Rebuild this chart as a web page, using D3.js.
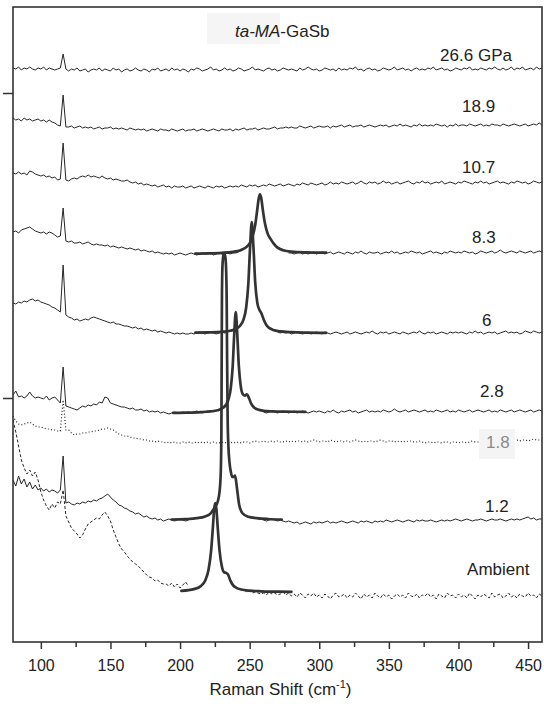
<!DOCTYPE html>
<html>
<head>
<meta charset="utf-8">
<script src="https://cdn.jsdelivr.net/npm/d3@7"></script>
<style>
  html, body { margin: 0; padding: 0; background: #fff; }
  svg { display: block; font-family: "Liberation Sans", Arial, Helvetica, sans-serif; }
</style>
</head>
<body>
<svg id="chart" width="544" height="704"></svg>
<script>
// Raman shift grid (cm-1) shared by all measured spectra
const shift = [
  80,82,84,86,88,90,92,94,96,98,
  100,102,104,106,108,110,112,114,116,118,
  120,122,124,126,128,130,132,134,136,138,
  140,142,144,146,148,150,152,154,156,158,
  160,162,164,166,168,170,172,174,176,178,
  180,182,184,186,188,190,192,194,196,198,
  200,202,204,206,208,210,212,214,216,218,
  220,222,224,226,228,230,232,234,236,238,
  240,242,244,246,248,250,252,254,256,258,
  260,262,264,266,268,270,272,274,276,278,
  280,282,284,286,288,290,292,294,296,298,
  300,302,304,306,308,310,312,314,316,318,
  320,322,324,326,328,330,332,334,336,338,
  340,342,344,346,348,350,352,354,356,358,
  360,362,364,366,368,370,372,374,376,378,
  380,382,384,386,388,390,392,394,396,398,
  400,402,404,406,408,410,412,414,416,418,
  420,422,424,426,428,430,432,434,436,438,
  440,442,444,446,448,450,452,454,456,458,
  460
];

// Pressure of each spectrum, top to bottom
const pressures = ["26.6 GPa", "18.9", "10.7", "8.3", "6", "2.8", "1.8", "1.2", "Ambient"];

// Vertical stacking offset of each spectrum (arb. units)
const offsets = [572, 516, 459, 389, 309, 230, 200, 122, 50];

// Measured intensities relative to each offset (null where the fitted peak is drawn)
const raw266 = [
  2,1,3,0,2,1,3,1,0,2,
  1,3,0,2,1,0,1,2,16,1,
  -1,1,0,2,-1,0,1,-2,0,1,
  0,2,-1,1,0,-1,2,0,1,-2,
  0,1,-1,0,2,0,-1,1,0,-2,
  1,0,2,-1,0,1,-1,2,0,1,
  -1,1,0,-2,1,0,2,1,-1,0,
  1,3,0,1,-1,0,2,0,1,-1,
  0,2,1,-1,0,1,3,0,1,0,
  -1,1,2,0,1,-1,0,2,1,0,
  1,0,-1,2,0,1,3,1,0,1,
  -1,0,2,1,0,1,-1,2,0,1,
  0,2,1,3,0,1,-1,1,2,0,
  1,-1,0,2,1,0,1,3,0,1,
  2,0,1,-1,1,2,0,1,0,2,
  1,3,0,1,2,0,1,-1,0,2,
  1,0,2,1,3,0,1,0,2,1,
  0,2,1,3,1,0,2,0,1,3,
  0,2,1,3,0,1,2,0,3,1,
  2
];
const raw189 = [
  8,6,7,5,8,6,7,5,6,7,
  5,6,4,6,4,3,1,0,31,-1,
  -1,0,-2,-1,0,-2,-1,-2,-1,-3,
  -2,-1,-3,-2,-2,-1,-3,-2,-3,-2,
  -3,-4,-2,-3,-4,-3,-4,-3,-5,-4,
  -3,-4,-5,-3,-4,-4,-5,-3,-4,-5,
  -4,-3,-5,-4,-4,-3,-5,-4,-3,-4,
  -5,-4,-3,-4,-5,-3,-4,-4,-3,-5,
  -3,-4,-3,-2,-4,-3,-3,-2,-4,-3,
  -2,-3,-3,-2,-1,-3,-2,-2,-1,-2,
  -1,-2,-2,0,-1,-2,-1,0,-2,-1,
  0,-1,-1,0,-2,0,-1,0,1,-1,
  0,1,-1,0,0,1,-1,0,1,0,
  -1,0,1,0,1,-1,0,1,0,2,
  0,1,0,-1,1,0,2,0,1,0,
  1,0,2,1,0,1,-1,1,0,2,
  0,1,1,0,2,1,0,1,2,0,
  1,0,2,1,1,0,2,1,0,1,
  2,1,0,1,2,0,1,2,1,3,
  1
];
const raw107 = [
  10,9,11,9,10,8,12,11,9,8,
  7,8,6,7,5,6,3,4,40,3,
  2,4,5,4,6,7,6,8,6,7,
  6,5,7,5,4,5,3,4,3,2,
  2,3,1,0,1,-1,0,-2,-1,-2,
  -3,-2,-4,-3,-2,-4,-3,-5,-3,-4,
  -4,-3,-5,-4,-3,-5,-4,-3,-4,-5,
  -3,-4,-5,-3,-4,-3,-5,-4,-3,-4,
  -3,-4,-2,-3,-4,-2,-3,-2,-4,-3,
  -2,-3,-1,-2,-3,-2,-1,-3,-2,-1,
  -2,-3,-1,-2,0,-1,-2,0,-1,-2,
  -1,0,-2,-1,1,-1,0,-1,1,0,
  -1,0,1,-1,0,2,0,-1,1,0,
  1,-1,0,2,0,1,-1,0,1,-1,
  0,1,2,0,-1,1,0,2,0,1,
  -1,0,1,0,2,-1,0,1,0,-1,
  1,0,2,1,0,-1,1,0,2,0,
  1,-1,0,1,2,0,1,0,-1,1,
  0,2,1,0,1,-1,0,2,1,0,
  1
];
const raw83 = [
  21,22,20,23,24,25,26,24,22,21,
  20,21,19,21,20,18,16,17,45,12,
  11,12,10,10,11,9,10,11,9,8,
  9,8,8,7,8,6,7,6,5,6,
  5,4,5,4,3,4,2,3,2,1,
  2,0,1,0,-1,0,-1,0,-2,-1,
  0,-1,-2,-1,0,-1,-2,-1,0,-1,
  -1,0,-2,-1,0,-1,-1,0,-1,0,
  0,1,null,null,null,null,null,null,null,null,
  null,null,null,null,null,null,null,null,null,0,
  0,-1,0,1,-1,0,-1,0,1,-1,
  0,1,-1,0,1,-1,0,1,0,-1,
  1,0,-1,1,0,2,0,-1,1,0,
  0,1,-1,0,1,0,2,0,1,-1,
  0,1,0,2,1,0,1,-1,0,1,
  2,0,1,0,-1,1,0,2,1,0,
  1,0,2,1,0,1,-1,0,2,1,
  0,1,2,0,1,3,1,0,1,2,
  1,0,2,1,0,1,2,0,1,2,
  1
];
const raw6 = [
  30,29,31,30,32,31,33,34,32,33,
  31,30,29,28,26,25,23,21,68,18,
  16,15,13,14,12,13,14,13,15,16,
  15,14,13,12,11,10,11,9,9,8,
  7,7,6,5,6,4,5,3,4,3,
  2,3,1,2,1,0,1,0,-1,0,
  -1,0,-1,-1,0,-1,0,1,0,-1,
  0,1,0,-1,0,1,0,1,null,null,
  null,null,null,null,null,null,null,null,null,null,
  null,null,null,null,null,1,0,1,0,1,
  -1,0,1,0,-1,0,1,-1,0,1,
  0,-1,1,0,-1,0,1,0,-1,0,
  1,-1,0,1,0,-1,0,1,0,2,
  0,-1,1,0,1,-1,0,1,0,-1,
  1,0,-1,0,1,0,2,0,-1,1,
  0,1,-1,0,1,0,-1,1,0,1,
  0,1,0,-1,1,0,2,0,1,-1,
  0,1,0,1,-1,0,1,2,0,1,
  0,1,-1,0,2,1,0,2,1,0,
  1
];
const raw28 = [
  17,21,15,16,14,16,20,16,14,15,
  14,13,16,12,14,15,12,9,45,6,
  5,4,3,2,4,6,5,7,6,8,
  7,10,9,15,14,9,8,7,6,5,
  5,4,3,4,2,2,3,1,2,0,
  1,0,1,-1,0,-1,-2,-1,0,-1,
  -1,0,-1,0,-1,0,1,0,-1,0,
  0,1,0,null,null,null,null,null,null,null,
  null,null,null,null,null,null,null,null,null,null,
  0,-1,0,1,0,-1,0,1,0,-1,
  0,1,-1,0,1,0,-1,0,1,0,
  1,0,-1,1,0,2,0,-1,1,0,
  1,2,0,1,-1,0,1,2,0,1,
  0,1,0,2,1,0,1,3,1,0,
  1,2,0,1,2,1,0,1,2,0,
  1,0,2,1,0,1,2,0,1,0,
  2,1,0,1,2,0,1,2,1,0,
  1,2,0,1,0,2,1,0,1,2,
  0,1,2,1,0,1,2,0,1,2,
  1
];
const raw18 = [
  26,21,18,17,18,19,20,18,16,15,
  15,14,13,13,12,12,11,11,42,12,
  12,9,7,8,8,9,9,10,10,11,
  11,12,13,13,14,13,12,10,8,7,
  6,6,5,4,4,3,3,2,2,1,
  1,0,1,0,0,-1,0,-1,0,-1,
  -1,0,-1,0,-1,-1,0,-1,0,-1,
  0,-1,0,-1,-1,0,-1,0,-1,0,
  -1,0,-1,0,0,-1,0,1,0,0,
  1,0,0,1,0,1,0,0,1,0,
  1,0,1,1,0,1,0,1,2,1,
  0,1,1,0,2,1,0,1,1,0,
  1,0,1,2,1,0,1,0,1,1,
  0,1,2,1,0,1,1,0,1,0,
  1,0,1,1,0,0,1,0,-1,0,
  0,-1,0,0,-1,0,0,-1,0,0,
  -1,0,0,-1,0,1,0,0,1,0,
  1,0,1,1,0,1,2,1,1,2,
  1,2,1,2,2,1,2,3,2,2,
  2
];
const raw12 = [
  40,34,44,36,41,33,38,31,35,30,
  32,29,31,28,30,29,27,30,64,17,
  18,16,15,17,16,18,17,19,18,20,
  19,21,22,24,26,23,20,18,15,14,
  12,11,9,8,6,7,5,3,4,2,
  1,2,0,1,-1,0,1,0,-1,0,
  1,0,-1,0,1,1,null,null,null,null,
  null,null,null,null,null,null,null,null,null,null,
  null,null,null,null,null,null,null,null,1,1,
  0,-1,0,1,0,-1,0,-1,-2,-1,
  -2,-3,-2,-4,-3,-2,-3,-4,-2,-3,
  -2,-3,-2,-1,-3,-2,-3,-2,-1,-2,
  -3,-2,-1,-2,-3,-1,-2,-1,-2,-3,
  -1,-2,-1,-2,0,-1,-2,-1,0,-1,
  -2,-1,0,-1,-2,0,-1,0,-1,-1,
  0,-1,-2,-1,0,-1,0,-1,0,1,
  0,-1,0,1,0,-1,0,0,1,0,
  -1,0,1,0,0,1,0,-1,0,1,
  0,1,0,1,2,3,1,2,0,1,
  1
];
const rawAmbient = [
  172,160,146,132,124,118,122,116,120,112,
  100,92,86,82,88,84,90,88,102,76,
  70,64,61,58,54,57,63,68,70,72,
  74,73,77,80,76,71,62,55,48,43,
  40,36,33,30,28,26,23,20,17,15,
  14,11,12,9,8,8,6,9,5,8,
  4,7,10,6,null,null,null,null,null,null,
  null,null,null,null,null,null,null,null,null,null,
  null,null,null,2,0,1,-1,0,-1,-2,
  -1,-3,0,-2,-1,-3,-2,0,-3,-1,
  -4,-2,-5,-1,-3,-6,-2,-4,-1,-5,
  -3,-6,-2,-4,-7,-3,-1,-5,-4,-2,
  -6,-3,-5,-1,-4,-7,-2,-5,-3,-6,
  -1,-4,-6,-2,-5,-3,-7,-4,-2,-5,
  -3,-6,-1,-4,-5,-2,-6,-3,-4,-1,
  -5,-3,-7,-2,-4,-6,-1,-4,-3,-6,
  -2,-5,-3,-6,-1,-4,-7,-3,-5,-2,
  -4,-6,-1,-5,-3,-2,-6,-4,-1,-5,
  -3,-6,-2,-4,-5,-1,-4,-3,-6,-2,
  -4
];

// Fitted phonon band profiles (shift, intensity relative to the spectrum offset)
const fit83Shift = [211,220,230,238,243,247,250,252,254,255.5,256.5,257.4,258.3,259.5,261,263,265,267,270,274,280,290,305];
const fit83Int   = [-0.6,-0.4,0.2,1.2,2.6,5.2,9.7,16.2,28.2,43.8,54.5,58.6,55,42.6,29.4,19.1,14.1,9.9,5.4,2.8,1.3,0.6,0.3];
const fit6Shift  = [211,220,230,236,240,243,245.5,247.5,249,250.3,251.5,252.7,254,255.5,257,258.5,260,262,264,267,272,280,290,305];
const fit6Int    = [0.3,0.6,1.2,2.2,4,7,13.1,25.5,48.1,85.5,111,86.5,50.3,30.1,23.2,19.5,13.8,8,5.1,3,1.6,0.8,0.4,0.2];
const fit28Shift = [195,205,215,222,227,230,233,235,236.5,237.8,238.9,240,241.1,242.2,243.5,245,246.5,248,249.5,251,253,256,260,266,275,290];
const fit28Int   = [-0.8,-0.6,-0.1,0.6,1.8,3.4,7.3,13.6,24.6,45.3,77.1,100,77.6,46.5,26.8,17.9,16.4,17.7,14,8.6,4.7,2.4,1.2,0.6,0.3,0.2];
const fit12Shift = [194,204,212,218,222,225,227,228.5,229.3,229.7,229.9,230.1,230.5,231.2,231.9,232.6,233.1,233.5,233.8,234.2,234.7,235.5,236.5,237.5,238.5,239.5,240.8,242.5,245,249,255,263,273];
const fit12Int   = [0.5,0.9,1.8,3.6,6.7,12.9,18,30,50,90,160,225,255,265,266,262,250,220,160,100,75,58,48,43,43,44.5,32.8,15,6.5,3.2,1.9,1,0.5];
const fitAmbShift = [201,210,215,218,220.5,222.3,223.6,224.5,225.3,226.1,227,228.3,230,231.5,233,234.5,236,238,240.5,244,250,258,268,280];
const fitAmbInt   = [1.2,2.9,6.1,11.3,22.4,41.1,65,82.8,89,83.1,65.6,42.3,25.7,19.9,19.1,17.4,11.9,6.9,4.2,2.5,1.3,0.7,0.4,0.2];

// Axis ticks
const majorTicks = [100, 150, 200, 250, 300, 350, 400, 450];
const minorTicks = [125, 175, 225, 275, 325, 375, 425];
const sideTicks = [549, 244];

// ---------- layout ----------
const svg = d3.select("#chart");
const plot = { left: 13, right: 542, top: 7, bottom: 642 };
const x = d3.scaleLinear().domain([80, 460]).range([plot.left, plot.right]);
const y = d3.scaleLinear().domain([0, 635]).range([plot.bottom, plot.top]);

const ink = "#262626";
const rawSets = [raw266, raw189, raw107, raw83, raw6, raw28, raw18, raw12, rawAmbient];
const dashes = [null, null, null, null, null, null, "1,2.2", null, "3,2"];

const fits = [
  { series: 3, xs: fit83Shift, ys: fit83Int },
  { series: 4, xs: fit6Shift, ys: fit6Int },
  { series: 5, xs: fit28Shift, ys: fit28Int },
  { series: 7, xs: fit12Shift, ys: fit12Int },
  { series: 8, xs: fitAmbShift, ys: fitAmbInt }
];

// label anchor: [shift, height above the spectrum offset]
const labelAt = [[386.8, 9], [402.6, 14.3], [402.6, 9.7], [409.7, 10.3], [416.9, 7], [415.5, 15.3], [419.8, -5.5], [419.1, 8.3], [406.2, 17]];

svg.append("defs").append("clipPath").attr("id", "plotclip")
  .append("rect")
  .attr("x", plot.left).attr("y", plot.top)
  .attr("width", plot.right - plot.left).attr("height", plot.bottom - plot.top);

// title with its pale backing panel
svg.append("rect").attr("x", 207).attr("y", 13).attr("width", 73).attr("height", 31).attr("fill", "#f5f5f5");
const title = svg.append("text").attr("x", 235).attr("y", 37).attr("font-size", 17).attr("fill", "#222");
title.append("tspan").attr("font-style", "italic").text("ta-MA");
title.append("tspan").text("-GaSb");

const traces = svg.append("g").attr("clip-path", "url(#plotclip)");

// measured spectra
rawSets.forEach((vals, k) => {
  const line = d3.line()
    .defined(d => d[1] !== null)
    .x(d => x(d[0]))
    .y(d => y(offsets[k] + d[1]));
  traces.append("path")
    .datum(d3.zip(shift, vals))
    .attr("d", line)
    .attr("fill", "none")
    .attr("stroke", ink)
    .attr("stroke-width", dashes[k] === "1,2.2" ? 1.2 : 1)
    .attr("stroke-dasharray", dashes[k])
    .attr("stroke-linejoin", "round");
});

// fitted profiles
fits.forEach(f => {
  const line = d3.line()
    .curve(d3.curveMonotoneX)
    .x(d => x(d[0]))
    .y(d => y(offsets[f.series] + d[1]));
  traces.append("path")
    .datum(d3.zip(f.xs, f.ys))
    .attr("d", line)
    .attr("fill", "none")
    .attr("stroke", "#333")
    .attr("stroke-width", 2.7)
    .attr("stroke-linejoin", "round")
    .attr("stroke-linecap", "round");
});

// pressure labels
pressures.forEach((p, k) => {
  const lx = x(labelAt[k][0]);
  const ly = y(offsets[k] + labelAt[k][1]);
  const faint = p === "1.8";
  if (faint) {
    svg.append("rect").attr("x", lx - 7).attr("y", ly - 18.5).attr("width", 36).attr("height", 30).attr("fill", "#f4f4f4");
  }
  svg.append("text")
    .attr("x", lx).attr("y", ly)
    .attr("font-size", 17)
    .attr("fill", faint ? "#8a8a8a" : "#222")
    .text(p);
});

// frame
svg.append("rect")
  .attr("x", plot.left).attr("y", plot.top)
  .attr("width", plot.right - plot.left).attr("height", plot.bottom - plot.top)
  .attr("fill", "none").attr("stroke", "#333").attr("stroke-width", 1.6);

// bottom axis: labelled major ticks and unlabelled minor ticks
const xAxis = svg.append("g").attr("transform", `translate(0,${plot.bottom})`)
  .call(d3.axisBottom(x).tickValues(majorTicks).tickSize(7).tickPadding(11).tickFormat(d3.format("d")));
xAxis.select(".domain").remove();
xAxis.selectAll("line").attr("stroke", "#333").attr("stroke-width", 1.5);
xAxis.selectAll("text").attr("font-size", 16).attr("fill", "#222")
  .attr("font-family", "\"Liberation Sans\", Arial, Helvetica, sans-serif");

const xMinor = svg.append("g").attr("transform", `translate(0,${plot.bottom})`)
  .call(d3.axisBottom(x).tickValues(minorTicks).tickSize(5).tickFormat(""));
xMinor.select(".domain").remove();
xMinor.selectAll("line").attr("stroke", "#333").attr("stroke-width", 1.5);

// left axis: two bare ticks
const yAxis = svg.append("g").attr("transform", `translate(${plot.left},0)`)
  .call(d3.axisLeft(y).tickValues(sideTicks).tickSize(10).tickFormat(""));
yAxis.select(".domain").remove();
yAxis.selectAll("line").attr("stroke", "#333").attr("stroke-width", 1.5);

// axis title
const xt = svg.append("text")
  .attr("x", (plot.left + plot.right) / 2 + 3).attr("y", 695)
  .attr("text-anchor", "middle").attr("font-size", 17).attr("fill", "#222");
xt.append("tspan").text("Raman Shift (cm");
xt.append("tspan").attr("font-size", 11).attr("dy", -7).text("-1");
xt.append("tspan").attr("dy", 7).text(")");
</script>
</body>
</html>
